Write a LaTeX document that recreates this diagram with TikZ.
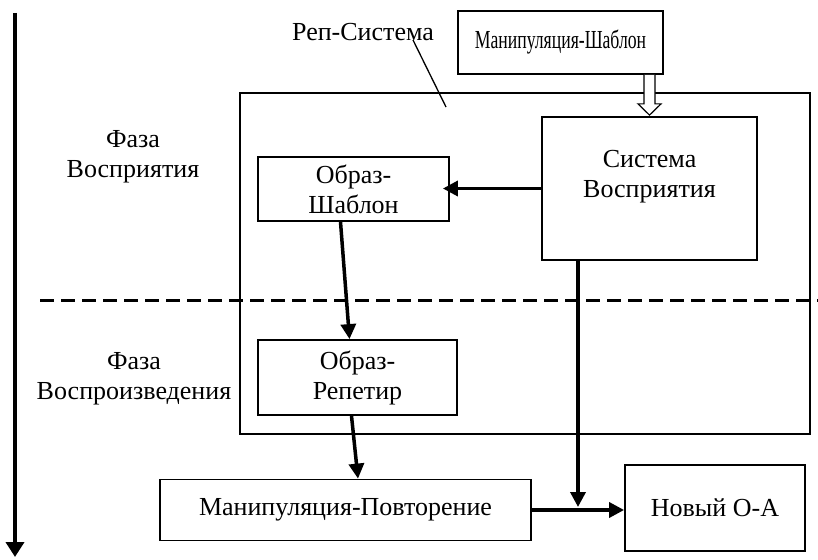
\documentclass[tikz,border=0pt]{standalone}
\usepackage{fontspec}
\setmainfont{Liberation Serif}
\usetikzlibrary{arrows.meta,calc}
\begin{document}
\begin{tikzpicture}[x=1pt,y=-1pt,
  box/.style={draw, line width=1.8pt, inner sep=0pt, align=center, font=\fontsize{26}{30}\selectfont},
  lbl/.style={inner sep=0pt, align=center, font=\fontsize{26}{30}\selectfont},
  arr/.style={line width=3.5pt, -{Triangle[length=15pt,width=15pt]}}]
\useasboundingbox (0,0) rectangle (818,559);
% big Rep-system box
\node[draw, line width=1.8pt, minimum width=570pt, minimum height=341pt, inner sep=0pt] (rep) at (525,263.5) {};
% boxes
\node[box, minimum width=205pt, minimum height=63pt] (ms) at (560.5,42.5) {\scalebox{0.68}[1]{Манипуляция-Шаблон}};
\node[box, fill=white, minimum width=215pt, minimum height=143pt] (sv) at (649.5,188.5) {};
\node[lbl] (svt) at ($(sv.center)+(0,-12)$) {Система\\Восприятия};
\node[box, minimum width=191pt, minimum height=64pt] (os) at (353.5,189) {Образ-\\Шаблон};
\node[box, minimum width=199pt, minimum height=75pt] (or) at (357.5,377.5) {Образ-\\Репетир};
\node[box, minimum width=371pt, minimum height=61pt] (mp) at (345.5,510) {Манипуляция-Повторение};
\node[box, minimum width=180pt, minimum height=86pt] (na) at (715,508) {Новый О-А};
% labels
\node[lbl] (rs) at (363,32) {Реп-Система};
\node[lbl] (f1) at (133,157) {Фаза\\Восприятия};
\node[lbl] (f2) at (134,379) {Фаза\\Воспроизведения};
% callout
\coordinate (c1) at (413,40);
\coordinate (c2) at (446,107);
\draw[line width=1.3pt] (c1) -- (c2);
% time arrow
\coordinate (ltop) at (15,13);
\coordinate (lbot) at (15,557);
\draw[line width=4pt, -{Triangle[length=15pt,width=18pt]}] (ltop) -- (lbot);
% dashed phase border
\coordinate (d1) at (40,300);
\coordinate (d2) at (818,300);
\draw[line width=3pt, dash pattern=on 14pt off 7pt] (d1) -- (d2);
% hollow arrow
\draw[line width=1.2pt, fill=white]
  ($(ms.south -| sv.north)+(-5.5,0)$) -- ++(0,29) -- ++(-6,0) -- ($(sv.north)+(0,-1)$)
  -- ($(ms.south -| sv.north)+(11.5,29)$) -- ++(-6,0) -- ++(0,-29);
% arrows
\draw[arr] (sv.west) -- ($(os.east |- sv.west)+(-7,0)$);
\draw[arr] ($(os.south)+(-13,0)$) -- ($(or.north)+(-8,0)$);
\draw[arr] ($(or.south)+(-6,0)$) -- ($(mp.north)+(12.5,0)$);
\coordinate (j) at (578,507);
\draw[arr] (mp.east) -- (mp.east -| na.west);
\draw[arr] (sv.south -| j) -- (j);
\end{tikzpicture}
\end{document}
